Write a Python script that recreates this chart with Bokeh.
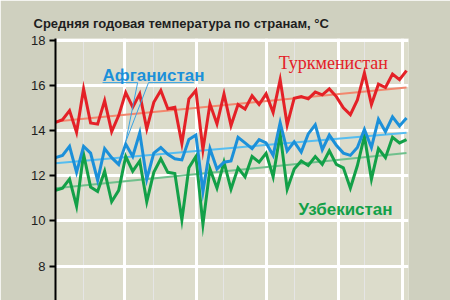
from bokeh.plotting import figure
from bokeh.models import Range1d, FixedTicker, Label, Grid
from bokeh.embed import file_html
from bokeh.resources import INLINE

years = list(range(1966, 2017))
turkmenistan = [14.36, 14.48, 14.88, 13.92, 15.84, 14.33, 14.28, 15.32, 13.95, 14.66,
                15.68, 15.03, 15.62, 14.07, 15.25, 15.77, 14.96, 15.03, 13.42, 15.40,
                15.77, 13.15, 15.18, 14.29, 15.62, 14.22, 15.15, 14.95, 15.54, 15.15,
                15.62, 14.80, 16.25, 14.25, 15.43, 15.50, 15.40, 15.70, 15.58, 15.84,
                15.50, 15.00, 14.70, 15.35, 16.55, 15.15, 16.05, 15.90, 16.50, 16.25, 16.65]
afghanistan = [12.80, 12.90, 13.30, 12.15, 13.30, 13.00, 11.80, 13.20, 12.80, 12.50,
               13.40, 12.85, 13.90, 11.85, 13.00, 13.25, 12.95, 12.75, 12.70, 13.60,
               13.80, 11.30, 13.20, 12.30, 12.60, 12.65, 13.70, 13.45, 13.20, 13.60,
               13.45, 12.90, 14.35, 13.10, 13.50, 13.05, 13.85, 14.25, 13.15, 13.80,
               13.35, 13.00, 12.90, 13.25, 14.05, 13.25, 14.50, 13.95, 14.60, 14.20, 14.55]
uzbekistan = [11.35, 11.45, 11.85, 10.65, 12.95, 11.50, 11.30, 12.20, 10.85, 11.35,
              12.85, 12.20, 12.65, 10.85, 12.15, 12.75, 12.15, 12.10, 10.05, 12.35,
              12.85, 9.85, 12.30, 11.45, 12.60, 11.40, 12.35, 11.95, 12.85, 12.60,
              13.00, 11.95, 13.85, 11.40, 12.30, 12.65, 12.45, 12.85, 12.50, 13.10,
              12.50, 12.35, 11.45, 12.45, 13.75, 11.85, 13.20, 12.80, 13.70, 13.45, 13.60]

trend_years = [1966, 2016]
turkmenistan_trend = [14.40, 15.90]
afghanistan_trend = [12.55, 13.90]
uzbekistan_trend = [11.45, 13.00]

y_ticks = [8, 10, 12, 14, 16, 18]
x_grid_years = [1975.8, 1986.1, 1996.0, 2006.3, 2015.4]

title_text = "Средняя годовая температура по странам, °C"
name_tm = "Туркменистан"
name_af = "Афганистан"
name_uz = "Узбекистан"

RED, RED_T = "#E42127", "#F2876E"
BLUE, BLUE_T = "#1C90D9", "#55BDF0"
GREEN, GREEN_T = "#13A048", "#6FC08C"

p = figure(width=450, height=300, x_range=Range1d(1966, 2016.28),
           y_range=Range1d(6.48, 18.07), toolbar_location=None,
           output_backend="svg", x_axis_location=None,
           min_border_left=55, min_border_right=42, min_border_top=38,
           min_border_bottom=0)
p.border_fill_color = "#CFD0BF"
p.background_fill_color = "#DCDCCB"
p.outline_line_color = None

p.title.text = title_text
p.title.align = "left"
p.title.offset = -22
p.title.standoff = 15
p.title.text_font = "Liberation Sans"
p.title.text_font_style = "bold"
p.title.text_font_size = "13px"
p.title.text_color = "#1E1E1E"

# y axis
yax = p.yaxis[0]
yax.ticker = FixedTicker(ticks=y_ticks)
yax.axis_line_color = "black"
yax.axis_line_width = 2
yax.major_tick_line_color = "black"
yax.major_tick_line_width = 2
yax.major_tick_out = 6
yax.major_tick_in = 0
yax.minor_tick_line_color = None
yax.major_label_standoff = 4
yax.major_label_text_font = "Liberation Sans"
yax.major_label_text_font_size = "13px"
yax.major_label_text_color = "#1E1E1E"

p.ygrid.grid_line_color = "white"
p.ygrid.grid_line_width = 3
xg = Grid(dimension=0, ticker=FixedTicker(ticks=x_grid_years),
          grid_line_color="white", grid_line_width=3)
p.add_layout(xg)

# trends
p.line(trend_years, turkmenistan_trend, color=RED_T, line_width=2)
p.line(trend_years, afghanistan_trend, color=BLUE_T, line_width=2)
p.line(trend_years, uzbekistan_trend, color=GREEN_T, line_width=2)

# series
p.line(years, uzbekistan, color=GREEN, line_width=3, line_join="miter")
p.line(years, afghanistan, color=BLUE, line_width=3, line_join="miter")
p.line(years, turkmenistan, color=RED, line_width=3, line_join="miter")

# callout for Afghanistan label
tip_x, tip_y = years[10], afghanistan[10] + 0.1
call_x = [1972.7, 1977.7, tip_x, 1979.25, 1985.7]
call_y = [16.12, 16.12, tip_y, 16.12, 16.12]
p.line(call_x, call_y, color="#3AA3E3", line_width=1)

p.add_layout(Label(x=1997.8, y=16.98, text=name_tm, text_color=RED,
                   text_font="Liberation Sans Narrow", text_font_size="18px",
                   text_baseline="alphabetic"))
p.add_layout(Label(x=1972.7, y=16.45, text=name_af, text_color=BLUE,
                   text_font="Liberation Sans", text_font_style="bold",
                   text_font_size="17px", text_baseline="alphabetic"))
p.add_layout(Label(x=2000.6, y=10.52, text=name_uz, text_color=GREEN,
                   text_font="Liberation Sans", text_font_style="bold",
                   text_font_size="17px", text_baseline="alphabetic"))

open("out.html", "w").write(file_html(p, INLINE))
